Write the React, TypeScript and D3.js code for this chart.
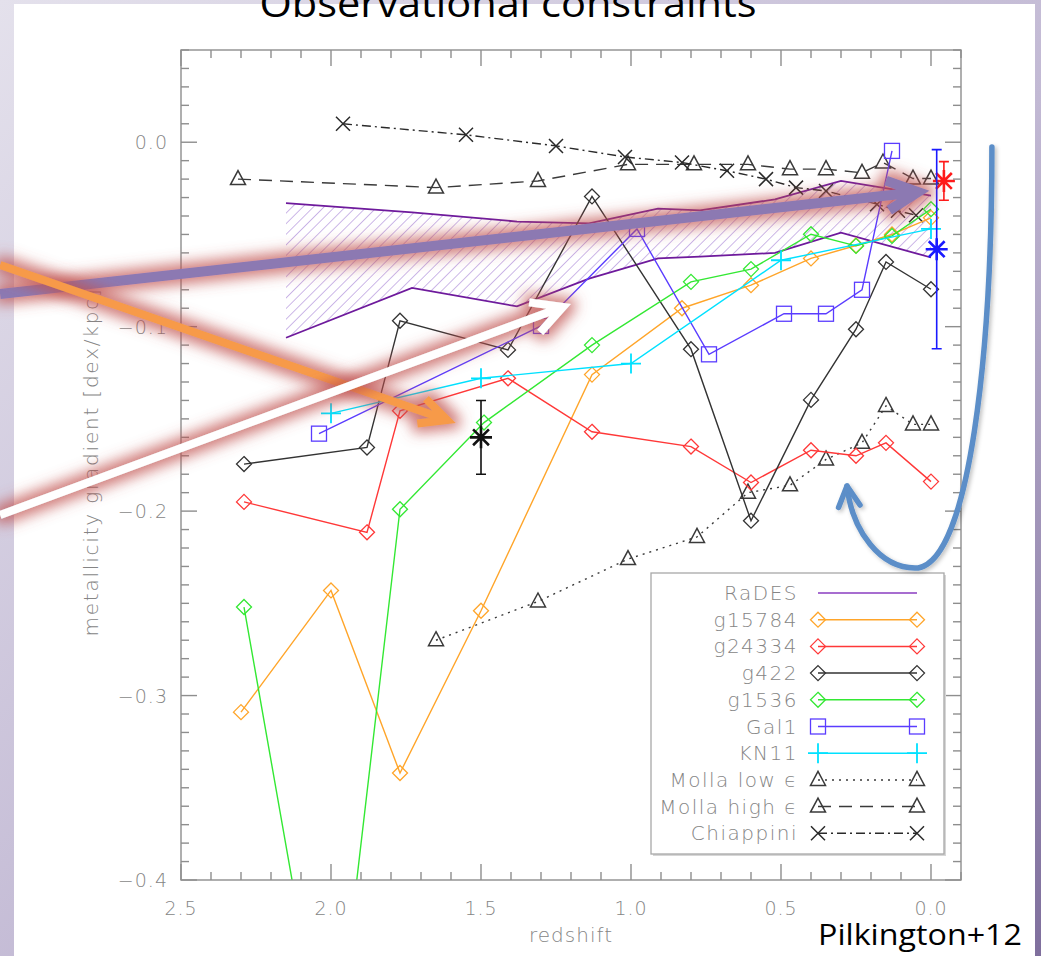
import React from "react";
import * as d3 from "d3";

const W = 1041;
const H = 956;
const M = { left: 181, right: 961, top: 50, bottom: 880 };

// RaDES envelope (upper / lower gradient bounds vs redshift)
const radesZ = [2.15, 1.73, 1.38, 1.14, 0.91, 0.77, 0.52, 0.3, 0.0];
const radesHi = [-0.033, -0.038, -0.043, -0.044, -0.036, -0.037, -0.031, -0.021, -0.029];
const radesLo = [-0.106, -0.079, -0.089, -0.074, -0.063, -0.062, -0.06, -0.049, -0.0625];

const g15784Z = [2.3, 2.0, 1.77, 1.5, 1.13, 0.83, 0.6, 0.4, 0.25, 0.13, 0.0];
const g15784Y = [-0.309, -0.243, -0.342, -0.254, -0.126, -0.09, -0.0775, -0.063, -0.056, -0.05, -0.041];

const g24334Z = [2.29, 1.88, 1.77, 1.41, 1.13, 0.8, 0.6, 0.4, 0.25, 0.15, 0.0];
const g24334Y = [-0.195, -0.2115, -0.1456, -0.128, -0.157, -0.165, -0.1845, -0.167, -0.17, -0.163, -0.184];

const g422Z = [2.29, 1.88, 1.77, 1.41, 1.13, 0.8, 0.6, 0.4, 0.25, 0.15, 0.0];
const g422Y = [-0.1745, -0.1655, -0.0968, -0.1126, -0.0294, -0.1122, -0.2052, -0.1397, -0.1014, -0.0649, -0.0797];

const g1536Z = [2.29, 2.0, 1.77, 1.49, 1.13, 0.8, 0.6, 0.4, 0.25, 0.13, 0.0];
const g1536Y = [-0.252, -0.52, -0.199, -0.152, -0.11, -0.0757, -0.0688, -0.0499, -0.0562, -0.0508, -0.0363];

const gal1Z = [2.04, 1.3, 0.98, 0.74, 0.49, 0.35, 0.23, 0.13];
const gal1Y = [-0.158, -0.0996, -0.047, -0.115, -0.093, -0.093, -0.08, -0.0047];

const kn11Z = [2.0, 1.5, 1.0, 0.5, 0.0];
const kn11Y = [-0.147, -0.128, -0.12, -0.064, -0.047];

const mollaLowZ = [1.65, 1.31, 1.01, 0.78, 0.61, 0.47, 0.35, 0.23, 0.15, 0.06, 0.0];
const mollaLowY = [-0.27, -0.249, -0.226, -0.214, -0.19, -0.186, -0.172, -0.163, -0.143, -0.153, -0.153];

const mollaHighZ = [2.31, 1.65, 1.31, 1.01, 0.79, 0.61, 0.47, 0.35, 0.23, 0.16, 0.06, 0.0];
const mollaHighY = [-0.02, -0.0246, -0.021, -0.012, -0.012, -0.012, -0.0146, -0.0146, -0.0166, -0.011, -0.0197, -0.0197];

const chiappiniZ = [1.96, 1.55, 1.25, 1.02, 0.83, 0.68, 0.55, 0.45, 0.35, 0.18, 0.11, 0.05];
const chiappiniY = [0.01, 0.004, -0.002, -0.008, -0.011, -0.0155, -0.02, -0.0246, -0.0264, -0.0336, -0.0372, -0.0396];

// Observed gradients with error bars
const obsZ = [1.5, -0.043, -0.019];
const obsY = [-0.16, -0.021, -0.058];
const obsErr = [0.02, 0.0105, 0.054];
const obsColor = ["#111111", "#ff1a1a", "#1a1aff"];

const xTickLabels = ["2.5", "2.0", "1.5", "1.0", "0.5", "0.0"];
const xTickValues = [2.5, 2.0, 1.5, 1.0, 0.5, 0.0];
const yTickLabels = ["\u22120.4", "\u22120.3", "\u22120.2", "\u22120.1", "0.0"];
const yTickValues = [-0.4, -0.3, -0.2, -0.1, 0.0];

// Annotation arrows, anchored in data units [z, gradient]
const arrowPurple = [[3.103, -0.0823], [0.0433, -0.027]];
const arrowOrange = [[3.103, -0.0666], [1.613, -0.1506]];
const arrowWhite = [[3.103, -0.2021], [1.227, -0.0893]];
const curvedArrow = [
  [-0.203, -0.0026], [-0.203, -0.1127], [-0.13, -0.2265], [0.0433, -0.2308],
  [0.17, -0.2319], [0.2633, -0.2104], [0.28, -0.1864],
];

type Marker = "diamond" | "square" | "plus" | "triangle" | "cross" | "none";

const series = [
  { name: "g15784", z: g15784Z, v: g15784Y, color: "#ffa52a", marker: "diamond" as Marker, dash: "" },
  { name: "g24334", z: g24334Z, v: g24334Y, color: "#ff3838", marker: "diamond" as Marker, dash: "" },
  { name: "g422", z: g422Z, v: g422Y, color: "#333333", marker: "diamond" as Marker, dash: "" },
  { name: "g1536", z: g1536Z, v: g1536Y, color: "#33e833", marker: "diamond" as Marker, dash: "" },
  { name: "Gal1", z: gal1Z, v: gal1Y, color: "#5a3cff", marker: "square" as Marker, dash: "" },
  { name: "KN11", z: kn11Z, v: kn11Y, color: "#00e1ff", marker: "plus" as Marker, dash: "" },
];
const modelSeries = [
  { name: "Molla low \u03f5", z: mollaLowZ, v: mollaLowY, color: "#3a3a3a", marker: "triangle" as Marker, dash: "2,5" },
  { name: "Molla high \u03f5", z: mollaHighZ, v: mollaHighY, color: "#3a3a3a", marker: "triangle" as Marker, dash: "13,8" },
  { name: "Chiappini", z: chiappiniZ, v: chiappiniY, color: "#2a2a2a", marker: "cross" as Marker, dash: "9,4,2,4" },
];

const legendEntries = [
  { name: "RaDES", color: "#8a3cc0", marker: "none" as Marker, dash: "" },
  ...series.map((s) => ({ name: s.name, color: s.color, marker: s.marker, dash: s.dash })),
  ...modelSeries.map((s) => ({ name: s.name, color: s.color, marker: s.marker, dash: s.dash })),
];

const AXIS = "#8e8e8e";
const TXT = "#858585";
const FONT = "'DejaVu Sans', 'Lato', sans-serif";

function MarkerShape({ kind, cx, cy, color, w = 1.3 }: { kind: Marker; cx: number; cy: number; color: string; w?: number }) {
  const common = { fill: "none", stroke: color, strokeWidth: w };
  switch (kind) {
    case "diamond":
      return <path d={`M${cx},${cy - 7.5}L${cx + 7.5},${cy}L${cx},${cy + 7.5}L${cx - 7.5},${cy}Z`} {...common} />;
    case "square":
      return <rect x={cx - 7.5} y={cy - 7.5} width={15} height={15} {...common} />;
    case "plus":
      return <path d={`M${cx - 10},${cy}H${cx + 10}M${cx},${cy - 10}V${cy + 10}`} {...common} strokeWidth={1.8} />;
    case "triangle":
      return <path d={`M${cx},${cy - 8.5}L${cx + 7.5},${cy + 5.5}L${cx - 7.5},${cy + 5.5}Z`} {...common} strokeWidth={1.5} />;
    case "cross":
      return <path d={`M${cx - 7},${cy - 7}L${cx + 7},${cy + 7}M${cx - 7},${cy + 7}L${cx + 7},${cy - 7}`} {...common} strokeWidth={1.5} />;
    default:
      return null;
  }
}

function arrowPath(p0: number[], p1: number[], len = 32, ang = 27) {
  const a = Math.atan2(p1[1] - p0[1], p1[0] - p0[0]);
  const r = (ang * Math.PI) / 180;
  const b1 = [p1[0] - len * Math.cos(a - r), p1[1] - len * Math.sin(a - r)];
  const b2 = [p1[0] - len * Math.cos(a + r), p1[1] - len * Math.sin(a + r)];
  const s = [p1[0] - 4 * Math.cos(a), p1[1] - 4 * Math.sin(a)];
  return `M${p0[0]},${p0[1]}L${s[0]},${s[1]}M${b1[0]},${b1[1]}L${p1[0]},${p1[1]}L${b2[0]},${b2[1]}`;
}

export default function App() {
  const x = d3.scaleLinear().domain([2.5, -0.1]).range([M.left, M.right]);
  const y = d3.scaleLinear().domain([-0.4, 0.05]).range([M.bottom, M.top]);

  const lineOf = (zs: number[], vs: number[]) =>
    d3.line<number>().x((_, i) => x(zs[i])).y((_, i) => y(vs[i]))(zs) || "";

  const band =
    d3
      .area<number>()
      .x((_, i) => x(radesZ[i]))
      .y0((_, i) => y(radesLo[i]))
      .y1((_, i) => y(radesHi[i]))(radesZ) || "";

  const xMinor = d3.range(25, -2, -1).map((v) => v / 10);
  const yMinor = d3.range(-40, 6, 1).map((v) => v / 100);

  const px = (p: number[]) => [x(p[0]), y(p[1])];

  const cp = curvedArrow.map(px);
  const curvePath = `M${cp[0][0]},${cp[0][1]}C${cp[1][0]},${cp[1][1]} ${cp[2][0]},${cp[2][1]} ${cp[3][0]},${cp[3][1]}C${cp[4][0]},${cp[4][1]} ${cp[5][0]},${cp[5][1]} ${cp[6][0]},${cp[6][1]}`;
  const tip = cp[6];
  const tAng = Math.atan2(tip[1] - cp[5][1], tip[0] - cp[5][0]);
  const hr = (28 * Math.PI) / 180;
  const hl = 23;
  const curveHead = `M${tip[0] - hl * Math.cos(tAng - hr)},${tip[1] - hl * Math.sin(tAng - hr)}L${tip[0]},${tip[1]}L${tip[0] - hl * Math.cos(tAng + hr)},${tip[1] - hl * Math.sin(tAng + hr)}`;

  const legX = 651;
  const legY = 573;
  const legW = 293;
  const legH = 281;
  const rowH = 26.7;

  return (
    <svg
      width={W}
      height={H}
      viewBox={`0 0 ${W} ${H}`}
      style={{ position: "absolute", left: 0, top: 0, display: "block" }}
    >
      <defs>
        <linearGradient id="slideBg" x1="0" y1="0" x2="1" y2="1">
          <stop offset="0" stopColor="#e4e1ec" />
          <stop offset="0.55" stopColor="#c2b9d4" />
          <stop offset="1" stopColor="#7f6f9d" />
        </linearGradient>
        <pattern id="hatch" width="7.5" height="7.5" patternUnits="userSpaceOnUse" patternTransform="rotate(45)">
          <line x1="0" y1="0" x2="0" y2="7.5" stroke="#a37cd4" strokeWidth="1.1" />
        </pattern>
        <clipPath id="plotClip">
          <rect x={M.left} y={M.top} width={M.right - M.left} height={M.bottom - M.top} />
        </clipPath>
        <filter id="redGlow" x="-30%" y="-60%" width="160%" height="220%">
          <feMorphology in="SourceAlpha" operator="dilate" radius="5" result="fat" />
          <feGaussianBlur in="fat" stdDeviation="7" result="soft" />
          <feFlood floodColor="#c0504d" floodOpacity="0.75" />
          <feComposite in2="soft" operator="in" result="glow" />
          <feMerge>
            <feMergeNode in="glow" />
            <feMergeNode in="SourceGraphic" />
          </feMerge>
        </filter>
        <filter id="softShadow" x="-20%" y="-10%" width="140%" height="120%">
          <feGaussianBlur in="SourceAlpha" stdDeviation="2" result="b" />
          <feOffset in="b" dx="1.5" dy="1.5" result="o" />
          <feFlood floodColor="#000" floodOpacity="0.25" />
          <feComposite in2="o" operator="in" result="s" />
          <feMerge>
            <feMergeNode in="s" />
            <feMergeNode in="SourceGraphic" />
          </feMerge>
        </filter>
      </defs>

      {/* slide background */}
      <rect x={0} y={0} width={W} height={H} fill="url(#slideBg)" />
      <rect x={14} y={4} width={1021} height={H - 4} fill="#ffffff" />

      {/* RaDES envelope and model tracks */}
      <g clipPath="url(#plotClip)">
        <path d={band} fill="url(#hatch)" stroke="none" />
        <path d={lineOf(radesZ, radesHi)} fill="none" stroke="#6e1a9c" strokeWidth={1.8} />
        <path d={lineOf(radesZ, radesLo)} fill="none" stroke="#6e1a9c" strokeWidth={1.8} />

        {modelSeries.map((s) => (
          <g key={s.name}>
            <path d={lineOf(s.z, s.v)} fill="none" stroke={s.color} strokeWidth={1.4} strokeDasharray={s.dash} />
            {s.z.map((zv, i) => (
              <MarkerShape key={i} kind={s.marker} cx={x(zv)} cy={y(s.v[i])} color={s.color} />
            ))}
          </g>
        ))}

        {series.map((s) => (
          <g key={s.name}>
            <path d={lineOf(s.z, s.v)} fill="none" stroke={s.color} strokeWidth={1.4} />
            {s.z.map((zv, i) => (
              <MarkerShape key={i} kind={s.marker} cx={x(zv)} cy={y(s.v[i])} color={s.color} />
            ))}
          </g>
        ))}

        {obsZ.map((zv, i) => {
          const cx = x(zv);
          const cy = y(obsY[i]);
          const t = y(obsY[i] + obsErr[i]);
          const b = y(obsY[i] - obsErr[i]);
          const r = 11;
          const d = r * 0.72;
          return (
            <g key={i} stroke={obsColor[i]} fill="none">
              <path d={`M${cx},${t}V${b}M${cx - 5},${t}H${cx + 5}M${cx - 5},${b}H${cx + 5}`} strokeWidth={1.6} />
              <path
                d={`M${cx - r},${cy}H${cx + r}M${cx},${cy - r}V${cy + r}M${cx - d},${cy - d}L${cx + d},${cy + d}M${cx - d},${cy + d}L${cx + d},${cy - d}`}
                strokeWidth={2.6}
              />
            </g>
          );
        })}
      </g>

      {/* frame and ticks */}
      <g stroke={AXIS} strokeWidth={1.4} fill="none">
        <rect x={M.left} y={M.top} width={M.right - M.left} height={M.bottom - M.top} />
        {xMinor.map((v) => {
          const major = Math.abs(v * 2 - Math.round(v * 2)) < 1e-6;
          const len = major ? 16 : 8;
          const xx = x(v);
          return (
            <g key={`x${v}`}>
              <line x1={xx} x2={xx} y1={M.bottom} y2={M.bottom - len} />
              <line x1={xx} x2={xx} y1={M.top} y2={M.top + len} />
            </g>
          );
        })}
        {yMinor.map((v) => {
          const major = Math.abs(v * 10 - Math.round(v * 10)) < 1e-6;
          const len = major ? 16 : 8;
          const yy = y(v);
          return (
            <g key={`y${v}`}>
              <line x1={M.left} x2={M.left + len} y1={yy} y2={yy} />
              <line x1={M.right} x2={M.right - len} y1={yy} y2={yy} />
            </g>
          );
        })}
      </g>

      <g fill={TXT} fontFamily={FONT} fontWeight={200} fontSize={19} letterSpacing={1}>
        {xTickValues.map((v, i) => (
          <text key={v} x={x(v)} y={M.bottom + 35} textAnchor="middle">
            {xTickLabels[i]}
          </text>
        ))}
        {yTickValues.map((v, i) => (
          <text key={v} x={M.left - 13} y={y(v) + 7} textAnchor="end">
            {yTickLabels[i]}
          </text>
        ))}
        <text x={(M.left + M.right) / 2} y={M.bottom + 62} textAnchor="middle" fontSize={20}>
          redshift
        </text>
        <text
          transform={`translate(98,462) rotate(-90)`}
          textAnchor="middle"
          fontSize={20}
          letterSpacing={1.8}
        >
          metallicity gradient [dex/kpc]
        </text>
      </g>

      {/* legend */}
      <g>
        <rect x={legX + 2} y={legY + 2} width={legW} height={legH} fill="#d6d6d6" />
        <rect x={legX} y={legY} width={legW} height={legH} fill="#ffffff" stroke="#a8a8a8" strokeWidth={1.3} />
        {legendEntries.map((e, i) => {
          const cy = legY + 20 + i * rowH;
          const x0 = 818;
          const x1 = 917;
          return (
            <g key={e.name}>
              <text
                x={798}
                y={cy + 7}
                textAnchor="end"
                fill={TXT}
                fontFamily={FONT}
                fontWeight={200}
                fontSize={20}
                letterSpacing={1.5}
              >
                {e.name}
              </text>
              <line x1={x0} x2={x1} y1={cy} y2={cy} stroke={e.color} strokeWidth={1.5} strokeDasharray={e.dash} />
              <MarkerShape kind={e.marker} cx={x0} cy={cy} color={e.color} />
              <MarkerShape kind={e.marker} cx={x1} cy={cy} color={e.color} />
            </g>
          );
        })}
      </g>

      {/* annotation arrows */}
      <path
        d={arrowPath(px(arrowPurple[0]), px(arrowPurple[1]), 34, 26)}
        fill="none"
        stroke="#8c79b2"
        strokeWidth={10}
        strokeLinejoin="miter"
        filter="url(#redGlow)"
      />
      <path
        d={arrowPath(px(arrowOrange[0]), px(arrowOrange[1]), 30, 26)}
        fill="none"
        stroke="#f79a48"
        strokeWidth={8}
        strokeLinejoin="miter"
        filter="url(#redGlow)"
      />
      <path
        d={arrowPath(px(arrowWhite[0]), px(arrowWhite[1]), 34, 28)}
        fill="none"
        stroke="#ffffff"
        strokeWidth={8}
        strokeLinejoin="miter"
        filter="url(#redGlow)"
      />
      <g filter="url(#softShadow)" fill="none" stroke="#5b8ec8" strokeWidth={5.5} strokeLinecap="round" strokeLinejoin="round">
        <path d={curvePath} />
        <path d={curveHead} />
      </g>

      {/* slide text */}
      <text x={508} y={17} textAnchor="middle" fontFamily="'Open Sans', sans-serif" fontSize={38} textLength={497} lengthAdjust="spacingAndGlyphs" fill="#000">
        Observational constraints
      </text>
      <text x={818} y={945} fontFamily="'Open Sans', sans-serif" fontSize={30} textLength={204} lengthAdjust="spacingAndGlyphs" fill="#000">
        Pilkington+12
      </text>
    </svg>
  );
}
